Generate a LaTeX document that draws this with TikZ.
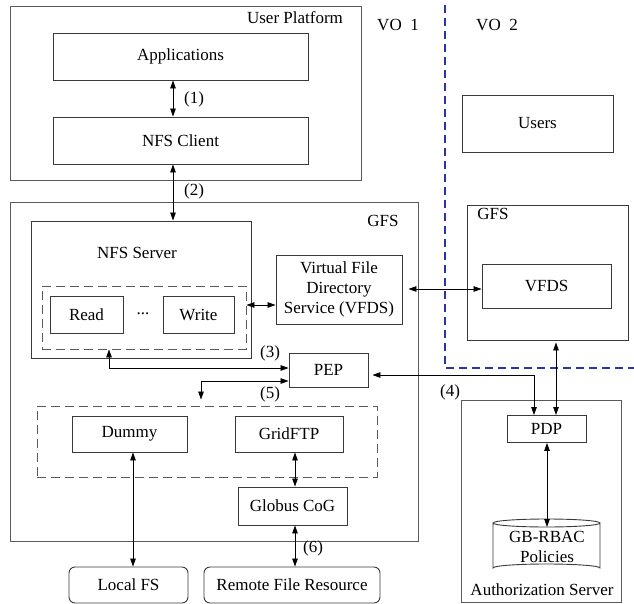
\documentclass[tikz,border=0pt]{standalone}
\usepackage{fontspec}
\setmainfont{Liberation Serif}
\usetikzlibrary{arrows.meta}
\definecolor{edge}{HTML}{3A3A3A}
\definecolor{frame}{HTML}{5A5A5A}
\definecolor{voblue}{HTML}{2A34A8}
\tikzset{
  box/.style={draw=edge, line width=0.9pt, inner sep=0pt, align=center},
  outer/.style={draw=frame, line width=0.9pt, inner sep=0pt},
  grp/.style={draw=frame, line width=0.9pt, dash pattern=on 9pt off 5pt, inner sep=0pt},
  rbox/.style={box, rounded corners=6pt},
  arr/.style={line width=0.8pt, {Triangle[length=8pt,width=5.5pt]}-{Triangle[length=8pt,width=5.5pt]}},
  lbl/.style={inner sep=0pt},
}
\begin{document}
\begin{tikzpicture}[x=1pt, y=-1pt, font=\fontsize{17}{20}\selectfont]
\useasboundingbox (0,0) rectangle (634,604);

% VO boundary
\draw[voblue, line width=1.3pt, dash pattern=on 8pt off 5pt] (445,5) -- (445,368) -- (634,368);
\node[lbl] (vo1) at (398,25) {VO\ \ 1};
\node[lbl] (vo2) at (497,25) {VO\ \ 2};

% User platform
\node[outer, minimum width=351, minimum height=174] (up) at (185.5,93) {};
\node[lbl] (uplbl) at (295,18) {User Platform};
\node[box, minimum width=255, minimum height=47] (app) at (180.5,56.5) {Applications};
\node[box, minimum width=255, minimum height=47] (nfsc) at (180.5,140.5) {NFS Client};

% GFS of VO 1
\node[outer, minimum width=408, minimum height=339] (gfs) at (214,371.5) {};
\node[lbl] (gfslbl) at (383,221) {GFS};
\node[box, minimum width=220, minimum height=137] (nfss) at (141,289.5) {};
\node[lbl] (nfsslbl) at (137,253) {NFS Server};
\node[grp, minimum width=204, minimum height=63] (ops) at (144,317.5) {};
\node[box, minimum width=73, minimum height=37] (read) at (86.5,314.5) {Read};
\node[box, minimum width=71, minimum height=37] (write) at (198.5,314.5) {Write};
\node[lbl] (dots) at (143,314) {...};
\node[box, minimum width=126, minimum height=69] (vfds) at (339,289.5) {Virtual File\\Directory\\Service (VFDS)};
\node[box, minimum width=79, minimum height=34] (pep) at (328.5,370) {PEP};
\node[grp, minimum width=340, minimum height=71] (drv) at (207,441.5) {};
\node[box, minimum width=115, minimum height=36] (dummy) at (129.5,434) {Dummy};
\node[box, minimum width=108, minimum height=36] (ftp) at (289,434) {GridFTP};
\node[box, minimum width=109, minimum height=38] (cog) at (292.5,506) {Globus CoG};
\node[rbox, minimum width=119, minimum height=36] (lfs) at (128.5,585) {Local FS};
\node[rbox, minimum width=176, minimum height=36] (rfr) at (292,585) {Remote File Resource};

% VO 2
\node[box, minimum width=151, minimum height=57] (users) at (537.5,123.5) {Users};
\node[box, minimum width=161, minimum height=135] (gfs2) at (547.5,272.5) {};
\node[lbl] (gfs2lbl) at (493,214) {GFS};
\node[box, minimum width=129, minimum height=44] (vfds2) at (546.5,286) {VFDS};

% Authorization server
\node[outer, minimum width=160, minimum height=202] (auth) at (541,501) {};
\node[lbl] (authlbl) at (542,590) {Authorization Server};
\node[box, minimum width=79, minimum height=27] (pdp) at (546.5,429) {PDP};
\draw[edge, line width=0.9pt]
  (493,523) -- (493,568) arc[start angle=180, end angle=360, x radius=53.5, y radius=4]
  -- (600,523) arc[start angle=0, end angle=360, x radius=53.5, y radius=4];
\coordinate (poltop) at (547,527);
\node[lbl, align=center] (pol) at (547,547) {GB-RBAC\\Policies};

% connector anchor lines
\coordinate (c1) at (173,0);
\coordinate (c3) at (109,368);
\coordinate (c5) at (201,381);
\coordinate (c4) at (534,375);
\coordinate (c6) at (0,289);
\coordinate (c7) at (556,0);
\coordinate (c8) at (0,305);
\coordinate (c9) at (133,0);
\coordinate (c10) at (295,0);
\coordinate (c11) at (547,0);

% connectors
\draw[arr] (app.south -| c1) -- (nfsc.north -| c1);
\node[lbl] (l1) at (194,99) {(1)};
\draw[arr] (nfsc.south -| c1) -- (nfss.north -| c1);
\node[lbl] (l2) at (194,191) {(2)};
\draw[arr] (ops.east |- c8) -- (vfds.west |- c8);
\draw[arr, shorten <=6pt] (vfds.east |- c6) -- (vfds2.west |- c6);
\draw[arr] (ops.south -| c3) |- (pep.west |- c3);
\node[lbl] (l3) at (270,353) {(3)};
\draw[arr, shorten >=6pt] (pep.west |- c5) -| (drv.north -| c5);
\node[lbl] (l5) at (270,394) {(5)};
\draw[arr, shorten <=4pt] (pep.east |- c4) -| (pdp.north -| c4);
\node[lbl] (l4) at (450,392) {(4)};
\draw[arr, shorten <=2pt] (gfs2.south -| c7) -- (pdp.north -| c7);
\draw[arr] (pdp.south -| c11) -- (poltop);
\draw[arr] (dummy.south -| c9) -- (lfs.north -| c9);
\draw[arr] (ftp.south -| c10) -- (cog.north -| c10);
\draw[arr] (cog.south -| c10) -- (rfr.north -| c10);
\node[lbl] (l6) at (313,548) {(6)};
\end{tikzpicture}
\end{document}
